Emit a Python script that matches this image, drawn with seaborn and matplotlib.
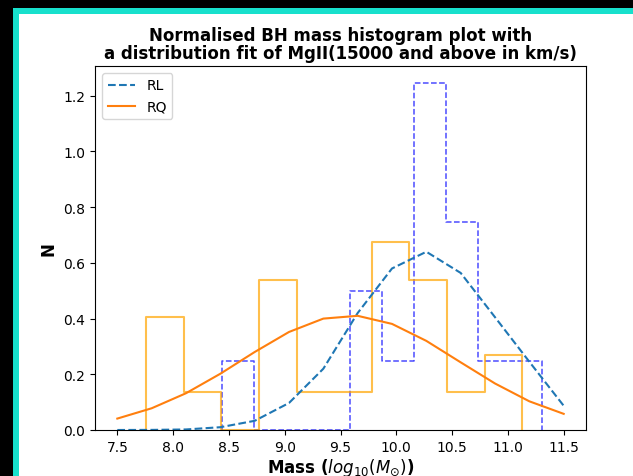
import numpy as np
import pandas as pd
import seaborn as sns
import matplotlib.pyplot as plt
from matplotlib.patches import Rectangle

# histogram bins (bin centres + counts)
rl_centres = [8.58, 8.87, 9.16, 9.44, 9.73, 10.01, 10.30, 10.59, 10.87, 11.16]
rl_counts = [1, 0, 0, 0, 2, 1, 5, 3, 1, 1]
rl_range = (8.437, 11.306)

rq_centres = [7.93, 8.26, 8.60, 8.94, 9.27, 9.61, 9.95, 10.29, 10.62, 10.96]
rq_counts = [3, 1, 0, 4, 1, 1, 5, 4, 1, 2]
rq_range = (7.757, 11.13)

# distribution fit curves
fit_mass = [7.5, 7.8077, 8.1154, 8.4231, 8.7308, 9.0385, 9.3462, 9.6538,
            9.9615, 10.2692, 10.5769, 10.8846, 11.1923, 11.5]
rl_fit = [0.0, 0.0004, 0.002, 0.010, 0.033, 0.097, 0.22, 0.42,
          0.58, 0.64, 0.564, 0.405, 0.245, 0.087]
rq_fit = [0.041, 0.078, 0.132, 0.202, 0.280, 0.352, 0.400, 0.410,
          0.381, 0.320, 0.243, 0.167, 0.103, 0.058]

xticks = [7.5, 8.0, 8.5, 9.0, 9.5, 10.0, 10.5, 11.0, 11.5]

rl_hist = pd.DataFrame({'mass': rl_centres, 'n': rl_counts})
rq_hist = pd.DataFrame({'mass': rq_centres, 'n': rq_counts})
fits = pd.DataFrame({'mass': fit_mass, 'RL': rl_fit, 'RQ': rq_fit})

fig = plt.figure(figsize=(6.33, 4.77), dpi=100, facecolor='black')
# screenshot frame: cyan border round the white figure
fig.patches.append(Rectangle((13.3/633, 0), 1, 468/477, transform=fig.transFigure,
                             facecolor='#17e0cc', edgecolor='none', zorder=-2))
fig.patches.append(Rectangle((18.5/633, 0), 1, 462.3/477, transform=fig.transFigure,
                             facecolor='white', edgecolor='none', zorder=-1))

ax = fig.add_axes([95/633, 46/477, 491/633, 364/477])

sns.histplot(data=rl_hist, x='mass', weights='n', bins=10, binrange=rl_range,
             stat='density', element='step', fill=False, color='blue',
             alpha=0.7, linestyle='--', linewidth=1.1, ax=ax)
sns.histplot(data=rq_hist, x='mass', weights='n', bins=10, binrange=rq_range,
             stat='density', element='step', fill=False, color='orange',
             alpha=0.7, linewidth=1.5, ax=ax)

# close the step outlines down to zero at both ends, like histtype='step'
for ln in ax.lines:
    xs, ys = ln.get_data()
    xs = np.concatenate([[xs[0]], xs, [xs[-1]]])
    ys = np.concatenate([[0], ys, [0]])
    ln.set_data(xs, ys)

sns.lineplot(data=fits, x='mass', y='RL', color='tab:blue', linestyle='--',
             linewidth=1.5, label='RL', ax=ax)
sns.lineplot(data=fits, x='mass', y='RQ', color='tab:orange',
             linewidth=1.5, label='RQ', ax=ax)

ax.set_xticks(xticks)
ax.set_xlim(7.3, 11.7)
ax.set_ylim(0, 1.307)
ax.set_title('Normalised BH mass histogram plot with\na distribution fit of MgII(15000 and above in km/s)',
             fontweight='bold', fontsize=12, linespacing=1.0)
ax.set_xlabel(r'Mass ($log_{10}(M_{\odot})$)', fontweight='bold', fontsize=12, labelpad=1.5)
ax.set_ylabel('N', fontweight='bold', fontsize=12)
ax.legend(loc='upper left')

fig.savefig('out.png', dpi=100, facecolor=fig.get_facecolor())
